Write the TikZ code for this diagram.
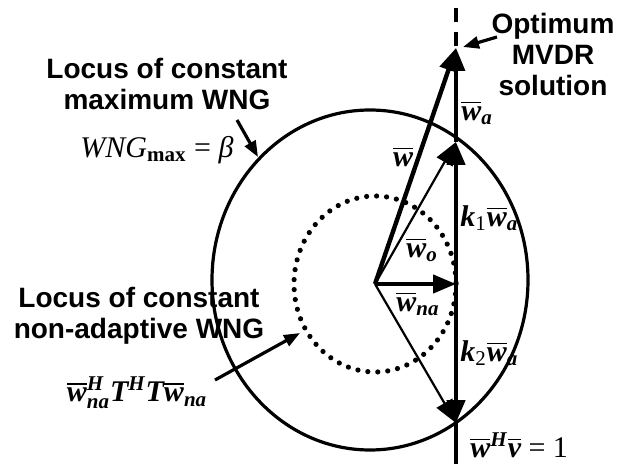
\documentclass[tikz,border=0pt]{standalone}
\usepackage{amsmath}
\usepackage{fontspec}
\setmainfont{Liberation Serif}
\setsansfont{Liberation Sans}
\usetikzlibrary{arrows.meta}

\newcommand{\vbar}[1]{\overline{\text{\bfseries\itshape #1}}}
\newcommand{\bi}[1]{\text{\bfseries\itshape #1}}

\begin{document}
\begin{tikzpicture}[x=0.5pt, y=-0.5pt,
    vec/.style={line width=2.2pt, -{Triangle[length=11.5pt, width=9pt]}},
    vecthin/.style={line width=1.1pt, -{Triangle[length=11.5pt, width=9pt]}},
    pointer/.style={line width=1.6pt, -{Triangle[length=8pt, width=6pt]}},
    caption/.style={font=\sffamily\bfseries\fontsize{14}{15.5}\selectfont, align=center},
    sym/.style={font=\fontsize{15}{17}\selectfont, inner sep=1pt}]
  \useasboundingbox (0,0) rectangle (631,464);

  % points on the constraint line
  \coordinate (O) at (375,284);
  \coordinate (T) at (456,8);
  \coordinate (A) at (456,48);
  \coordinate (B) at (456,142);
  \coordinate (C) at (456,284);
  \coordinate (D) at (456,423);
  \coordinate (E) at (456,464);

  % loci
  \draw[line width=1.6pt] (370,280) ellipse [x radius=158, y radius=170];
  \draw[line width=2.6pt, line cap=round, dash pattern=on 0pt off 5pt] (O) ellipse [x radius=81, y radius=88];

  % constraint line
  \draw[line width=1.6pt, dash pattern=on 7pt off 5pt] (T) -- (A);
  \draw[line width=1.6pt] (D) -- (E);
  \draw[line width=1.6pt, -{Triangle[length=11.5pt, width=9pt]}] (B) -- (A);
  \draw[vec] (C) -- (B);
  \draw[vec] (C) -- (D);

  % weight vectors
  \draw[vec] (O) -- (A);
  \draw[vecthin] (O) -- (B);
  \draw[vec] (O) -- (C);
  \draw[vecthin] (O) -- (D);

  % labels
  \node[sym] (wa) at (477,113) {$\vbar{w}_{\bi{a}}$};
  \node[sym] (w) at (403,157) {$\vbar{w}$};
  \node[sym, anchor=west] (k1) at (458,218) {$\bi{k}_{\text{1}}\vbar{w}_{\bi{a}}$};
  \node[sym] (wo) at (422,250) {$\vbar{w}_{\bi{o}}$};
  \node[sym] (wna) at (418,304) {$\vbar{w}_{\bi{na}}$};
  \node[sym, anchor=west] (k2) at (458,353) {$\bi{k}_{\text{2}}\vbar{w}_{\bi{a}}$};
  \node[sym, anchor=west] (cons) at (468,445) {$\vbar{w}^{\bi{H}}\vbar{v}\text{ = 1}$};

  \node[caption] (mvdr) at (553,54) {Optimum\\MVDR\\solution};
  \node[caption] (maxwng) at (167,84) {Locus of constant\\maximum WNG};
  \node[sym] (beta) at (157,150) {\textit{WNG}\textsubscript{\bfseries max} = \textit{β}};
  \node[caption] (nawng) at (139,316) {Locus of constant\\non-adaptive WNG};
  \node[sym] (tform) at (137,393) {$\vbar{w}^{\bi{H}}_{\bi{na}}\bi{T}^{\bi{H}}\bi{T}\vbar{w}_{\bi{na}}$};

  % pointers to the loci
  \coordinate (q1) at (497,37);
  \coordinate (p1) at (463,47);
  \coordinate (q2) at (237,120);
  \coordinate (p2) at (258,157);
  \coordinate (q3) at (215,380);
  \coordinate (p3) at (300,333);
  \draw[pointer] (q1) -- (p1);
  \draw[pointer] (q2) -- (p2);
  \draw[pointer] (q3) -- (p3);
\end{tikzpicture}
\end{document}
